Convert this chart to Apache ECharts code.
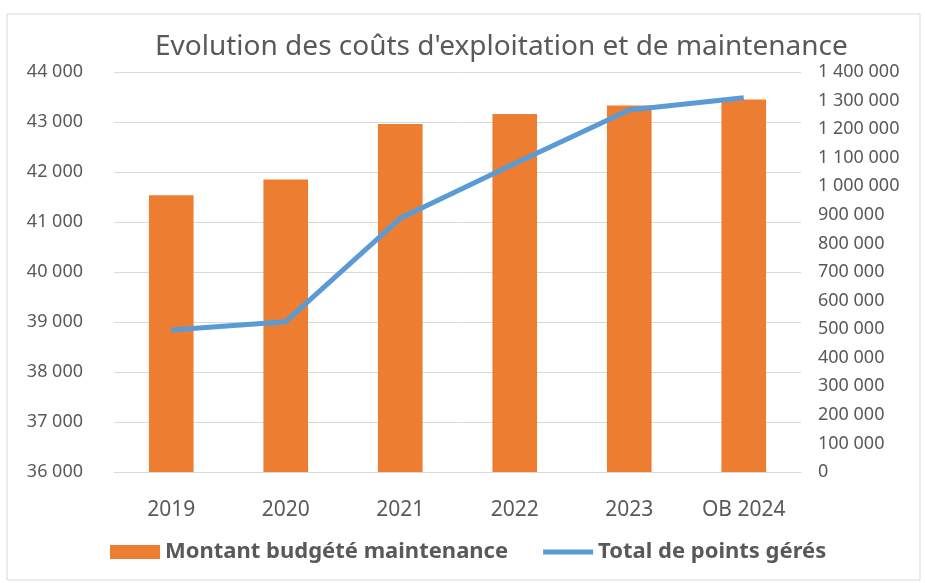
<!DOCTYPE html>
<html>
<head>
<meta charset="utf-8">
<script src="https://cdn.jsdelivr.net/npm/echarts@6/dist/echarts.min.js"></script>
<style>
  html, body { margin: 0; padding: 0; background: #fff; }
  #chart { width: 925px; height: 583px; }
</style>
</head>
<body>
<div id="chart"></div>
<script>
// categories and values
var years = ['2019', '2020', '2021', '2022', '2023', 'OB 2024'];
var budget = [41535, 41850, 42960, 43160, 43330, 43450];
var points = [497000, 526000, 888000, 1080000, 1267000, 1310000];

var font = 'Noto Sans';
var grey = '#595959';

function fmt(v) {
    return String(v).replace(/\B(?=(\d{3})+(?!\d))/g, ' ');
}

var option = {
    backgroundColor: '#fff',
    animation: false,
    title: {
        text: "Evolution des coûts d'exploitation et de maintenance",
        left: 150,
        top: 28,
        textStyle: { fontFamily: font, fontSize: 28, fontWeight: 'normal', color: grey }
    },
    legend: {
        bottom: 15,
        left: 105,
        itemWidth: 50,
        itemHeight: 14,
        itemGap: 35,
        textStyle: { fontFamily: font, fontSize: 22, fontWeight: 'bold', color: grey },
        data: [
            { name: 'Montant budgété maintenance', icon: 'rect' },
            { name: 'Total de points gérés', icon: 'path://M0,0H100V10H0Z' }
        ]
    },
    grid: {
        left: 114,
        right: 124,
        top: 72,
        bottom: 111
    },
    graphic: [{
        type: 'rect',
        shape: { x: 7, y: 14, width: 913, height: 566 },
        style: { fill: 'none', stroke: '#D9D9D9', lineWidth: 1 },
        silent: true
    }],
    xAxis: {
        type: 'category',
        data: years,
        axisLine: { lineStyle: { color: '#D9D9D9' } },
        axisTick: { show: false },
        axisLabel: { fontFamily: font, fontSize: 21, color: grey, margin: 28 }
    },
    yAxis: [
        {
            type: 'value',
            min: 36000,
            max: 44000,
            interval: 1000,
            axisLine: { show: false },
            axisTick: { show: false },
            splitLine: { lineStyle: { color: '#D9D9D9', width: 1 } },
            axisLabel: { fontFamily: font, fontSize: 18, color: grey, margin: 31, formatter: fmt }
        },
        {
            type: 'value',
            min: 0,
            max: 1400000,
            interval: 100000,
            axisLine: { show: false },
            axisTick: { show: false },
            splitLine: { show: false },
            axisLabel: { fontFamily: font, fontSize: 18, color: grey, margin: 17, formatter: fmt }
        }
    ],
    series: [
        {
            name: 'Montant budgété maintenance',
            type: 'bar',
            barWidth: '39%',
            itemStyle: { color: '#ED7D31' },
            data: budget
        },
        {
            name: 'Total de points gérés',
            type: 'line',
            yAxisIndex: 1,
            symbol: 'none',
            lineStyle: { color: '#5B9BD5', width: 5 },
            itemStyle: { color: '#5B9BD5' },
            data: points
        }
    ]
};

var myChart = echarts.init(document.getElementById('chart'));
myChart.setOption(option);
</script>
</body>
</html>
